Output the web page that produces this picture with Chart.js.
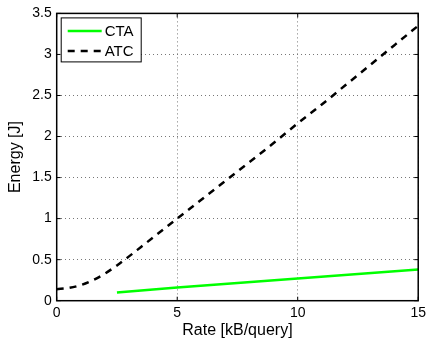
<!DOCTYPE html>
<html lang="en">
<head>
    <meta charset="UTF-8">
    <title>Energy vs Rate</title>
    <style>
        body { margin: 0; background: #fff; }
        #wrap { width: 430px; height: 343px; }
    </style>
</head>
<body>
    <div id="wrap"><canvas id="myChart" width="430" height="343"></canvas></div>

<script src="https://cdn.jsdelivr.net/npm/chart.js"></script>
    <script>
        // values
        const rateATC = [0, 0.5, 1, 1.5, 2, 2.5, 3, 3.5, 4, 4.5, 5, 6, 7, 8, 9, 10, 11, 12, 13, 14, 15]
        const energyATC = [0.14, 0.155, 0.19, 0.25, 0.33, 0.43, 0.54, 0.655, 0.77, 0.885, 1.0, 1.23, 1.46, 1.69, 1.92, 2.16, 2.39, 2.63, 2.87, 3.11, 3.35]
        const rateCTA = [2.5, 5, 10, 15]
        const energyCTA = [0.10, 0.16, 0.27, 0.38]
        const xTicks = [0, 5, 10, 15]
        const yTicks = [0, 0.5, 1, 1.5, 2, 2.5, 3, 3.5]

        const font = "'Liberation Sans', Arial, Helvetica, sans-serif"

        function toPoints(xs, ys) {
            return xs.map((x, i) => ({ x: x, y: ys[i] }))
        }

        // matlab style box, inward ticks and legend inside the axes
        const boxPlugin = {
            id: 'box',
            afterDatasetsDraw(chart) {
                const ctx = chart.ctx
                const a = chart.chartArea
                const xs = chart.scales.x, ys = chart.scales.y
                ctx.save()
                ctx.strokeStyle = '#000'
                ctx.lineWidth = 1.5
                ctx.strokeRect(a.left, a.top, a.right - a.left, a.bottom - a.top)
                ctx.lineWidth = 1
                ctx.beginPath()
                xTicks.forEach(v => {
                    const p = xs.getPixelForValue(v)
                    ctx.moveTo(p, a.bottom); ctx.lineTo(p, a.bottom - 4)
                    ctx.moveTo(p, a.top); ctx.lineTo(p, a.top + 4)
                })
                yTicks.forEach(v => {
                    const p = ys.getPixelForValue(v)
                    ctx.moveTo(a.left, p); ctx.lineTo(a.left + 4, p)
                    ctx.moveTo(a.right, p); ctx.lineTo(a.right - 4, p)
                })
                ctx.stroke()

                // legend
                const bx = a.left + 4, by = a.top + 4, bw = 80, bh = 44
                ctx.fillStyle = '#fff'
                ctx.fillRect(bx, by, bw, bh)
                ctx.lineWidth = 1
                ctx.strokeRect(bx + 0.5, by + 0.5, bw, bh)
                ctx.font = '15px ' + font
                ctx.textBaseline = 'middle'
                chart.data.datasets.forEach((ds, i) => {
                    const y = by + 13.5 + i * 20
                    ctx.strokeStyle = ds.borderColor
                    ctx.lineWidth = ds.borderWidth
                    ctx.setLineDash(ds.borderDash || [])
                    ctx.beginPath()
                    ctx.moveTo(bx + 7, y); ctx.lineTo(bx + 41, y)
                    ctx.stroke()
                    ctx.setLineDash([])
                    ctx.fillStyle = '#000'
                    ctx.fillText(ds.label, bx + 44, y + 1)
                })
                ctx.restore()
            }
        }

        new Chart(document.getElementById('myChart'), {
            type: 'line',
            data: {
                datasets: [{
                    label: 'CTA',
                    data: toPoints(rateCTA, energyCTA),
                    borderColor: '#00ff00',
                    borderWidth: 2.5,
                    pointRadius: 0,
                    fill: false
                }, {
                    label: 'ATC',
                    data: toPoints(rateATC, energyATC),
                    borderColor: '#000',
                    borderWidth: 2.5,
                    borderDash: [7, 6],
                    pointRadius: 0,
                    cubicInterpolationMode: 'monotone',
                    fill: false
                }]
            },
            options: {
                responsive: false,
                animation: false,
                layout: { padding: { top: 13, right: 9.5, left: 0, bottom: 0 } },
                plugins: { legend: { display: false }, tooltip: { enabled: false } },
                scales: {
                    x: {
                        type: 'linear',
                        min: 0, max: 15,
                        afterBuildTicks: s => { s.ticks = xTicks.map(v => ({ value: v })) },
                        afterFit: s => { s.height = 42.3 },
                        grid: { color: '#777', lineWidth: 1, drawTicks: false },
                        border: { display: false, dash: [1, 3] },
                        ticks: { color: '#000', padding: 4, font: { family: font, size: 14 }, callback: v => String(v) },
                        title: { display: true, text: 'Rate [kB/query]', color: '#000', padding: { top: 0, bottom: 3 }, font: { family: font, size: 16 } }
                    },
                    y: {
                        min: 0, max: 3.5,
                        afterBuildTicks: s => { s.ticks = yTicks.map(v => ({ value: v })) },
                        afterFit: s => { s.width = 56.7 },
                        grid: { color: '#777', lineWidth: 1, drawTicks: false },
                        border: { display: false, dash: [1, 3] },
                        ticks: { color: '#000', padding: 5, font: { family: font, size: 14 }, callback: v => String(v) },
                        title: { display: true, text: 'Energy [J]', color: '#000', padding: { top: 6, bottom: 0 }, font: { family: font, size: 16 } }
                    }
                }
            },
            plugins: [boxPlugin]
        })
    </script>
</body>
</html>
